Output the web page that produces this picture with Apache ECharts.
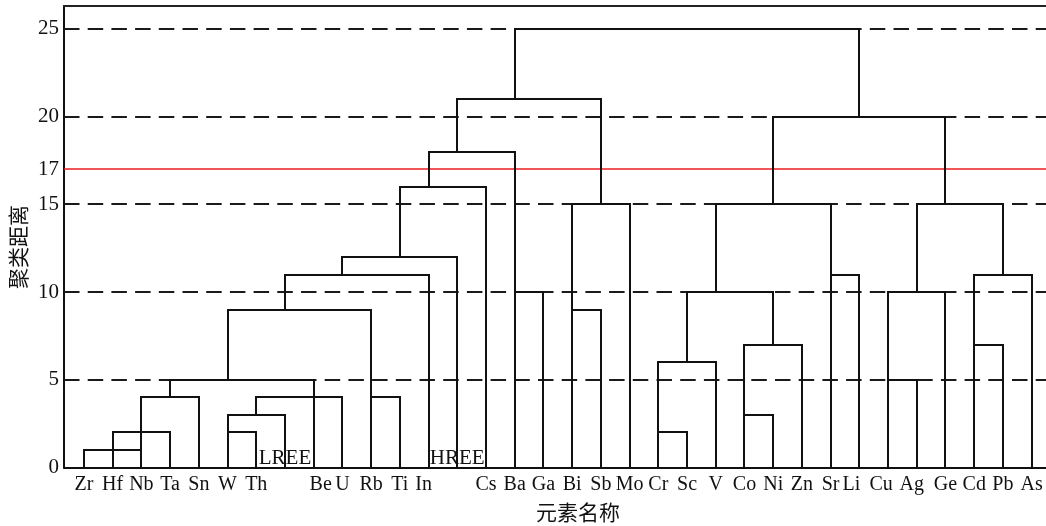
<!DOCTYPE html>
<html>
<head>
<meta charset="utf-8">
<script src="https://cdn.jsdelivr.net/npm/echarts@6/dist/echarts.min.js"></script>
<style>
html,body{margin:0;padding:0;background:#fff;}
#c{width:1046px;height:526px;}
</style>
</head>
<body>
<div id="c"></div>
<script>
// leaves in dendrogram order (LREE / HREE are group leaves labelled inside the plot)
const categories = ['Zr','Hf','Nb','Ta','Sn','W','Th','LREE','Be','U','Rb','Ti','In','HREE','Cs','Ba','Ga','Bi','Sb','Mo','Cr','Sc','V','Co','Ni','Zn','Sr','Li','Cu','Ag','Ge','Cd','Pb','As'];
const innerLabels = ['LREE','HREE'];
// height each leaf's vertical line rises to from 0
const leafHeights = [1,2,4,2,4,3,2,3,5,4,9,4,11,12,16,18,10,15,9,15,6,2,6,7,3,7,15,11,10,5,10,11,7,11];
// stems: [leaf index, from height, to height]
const stems = [[3,4,5],[6,3,4],[5,5,9],[7,9,11],[9,11,12],[11,12,16],[12,16,18],[13,18,21],[15,21,25],[18,15,21],[21,6,10],[24,7,10],[22,10,15],[24,15,20],[27,20,25],[29,10,15],[30,15,20],[32,11,15]];
// merges: [from leaf index, to leaf index, height]
const merges = [[0,2,1],[1,3,2],[2,4,4],[3,8,5],[5,6,2],[5,7,3],[6,9,4],[10,11,4],[5,10,9],[7,12,11],[9,13,12],[11,14,16],[12,15,18],[13,18,21],[15,27,25],[15,16,10],[17,18,9],[17,19,15],[20,21,2],[20,22,6],[23,24,3],[23,25,7],[21,24,10],[22,26,15],[26,27,11],[24,30,20],[28,29,5],[28,30,10],[29,32,15],[31,33,11],[31,32,7]];
const yTicks = [0,5,10,15,17,20,25];
const dashedLevels = [5,10,15,20,25];
const cutLevel = [17];
const yMax = 26.31;

// label layout nudges (px, style only)
const labelNudge = {Be:7, In:-5, Li:-8, Cu:-7, Ag:-5};

const segs = [];
leafHeights.forEach((h,i)=>segs.push([i,0,i,h]));
stems.forEach(s=>segs.push([s[0],s[1],s[0],s[2]]));
merges.forEach(m=>segs.push([m[0],m[2],m[1],m[2]]));

const serif = '"Liberation Serif","Times New Roman",serif';
const ink = '#111';
const xFont = 20;

const rich = {};
categories.forEach((c,i)=>{
  const d = labelNudge[c] || 0;
  rich['n'+(i+1)] = {fontFamily:serif, fontSize:xFont, color:ink,
    padding: d>0 ? [0,0,0,2*d] : [0,-2*d,0,0]};
});

const chart = echarts.init(document.getElementById('c'), null, {renderer:'canvas'});
const gridTop = 6, gridBottom = 58.5;

function levelLine(color, width, dash){
  return function(params, api){
    const v = api.value(0);
    const p0 = api.coord([0, v]);
    const p1 = api.coord([1, v]);
    const y = Math.round(p0[1]);
    return {type:'line', shape:{x1:p0[0], y1:y, x2:p1[0], y2:y},
      style:{stroke:color, lineWidth:width, lineDash:dash}};
  };
}

chart.setOption({
  animation:false,
  backgroundColor:'#fff',
  grid:[
    {left:64, right:0, top:gridTop, bottom:gridBottom},
    {left:69.6, right:0, top:gridTop, bottom:gridBottom}
  ],
  xAxis:[
    {gridIndex:0, type:'value', min:0, max:1, position:'bottom',
      axisLine:{show:true, onZero:false, lineStyle:{color:ink, width:2}},
      axisTick:{show:false}, axisLabel:{show:false}, splitLine:{show:false}},
    {gridIndex:0, type:'value', min:0, max:1, position:'top',
      axisLine:{show:true, onZero:false, lineStyle:{color:'#222', width:2}},
      axisTick:{show:false}, axisLabel:{show:false}, splitLine:{show:false}},
    {gridIndex:1, type:'category', data:categories, boundaryGap:true,
      axisLine:{show:false}, axisTick:{show:false}, splitLine:{show:false},
      axisLabel:{interval:0, margin:7, fontFamily:serif, fontSize:xFont, color:ink, rich:rich,
        formatter:(v,i)=> innerLabels.indexOf(v)>=0 ? '' : '{n'+(i+1)+'|'+v+'}'}}
  ],
  yAxis:[
    {gridIndex:0, type:'value', min:0, max:yMax, interval:1,
      axisLine:{show:true, lineStyle:{color:ink, width:2}},
      axisTick:{show:false}, splitLine:{show:false},
      axisLabel:{margin:5, fontFamily:serif, fontSize:21, color:ink,
        formatter:v=> yTicks.indexOf(v)>=0 ? String(v) : ''}},
    {gridIndex:1, type:'value', min:0, max:yMax, show:false}
  ],
  graphic:[
    {type:'text', x:18, y:247, rotation:Math.PI/2,
      style:{text:'聚类距离', font:'21px "Noto Sans CJK SC"', fill:ink, align:'center', verticalAlign:'middle'}},
    {type:'text', x:578, y:512,
      style:{text:'元素名称', font:'21px "Noto Sans CJK SC"', fill:ink, align:'center', verticalAlign:'middle'}}
  ],
  series:[
    {type:'custom', xAxisIndex:0, yAxisIndex:0, data:dashedLevels.map(v=>[v]), z:1,
      renderItem:levelLine('#1a1a1a', 2, [15.5, 8.2]), silent:true},
    {type:'custom', xAxisIndex:0, yAxisIndex:0, data:cutLevel.map(v=>[v]), z:2,
      renderItem:levelLine('#ee1c1c', 1.5, null), silent:true},
    {type:'custom', xAxisIndex:2, yAxisIndex:1, data:segs, z:3, clip:false, silent:true,
      encode:{x:[0,2], y:[1,3]},
      renderItem:function(params, api){
        const p0 = api.coord([api.value(0), api.value(1)]);
        const p1 = api.coord([api.value(2), api.value(3)]);
        return {type:'line', shape:{x1:Math.round(p0[0]), y1:Math.round(p0[1]), x2:Math.round(p1[0]), y2:Math.round(p1[1])},
          style:{stroke:ink, lineWidth:2, lineCap:'square'}};
      }},
    {type:'custom', xAxisIndex:2, yAxisIndex:1, z:4, clip:false, silent:true,
      data:innerLabels.map(n=>[categories.indexOf(n), 0]),
      renderItem:function(params, api){
        const p = api.coord([api.value(0), api.value(1)]);
        return {type:'text', x:p[0], y:p[1]+1,
          style:{text:innerLabels[params.dataIndex], font:'21px '+serif, fill:ink, align:'center', verticalAlign:'bottom'}};
      }}
  ]
});
</script>
</body>
</html>
